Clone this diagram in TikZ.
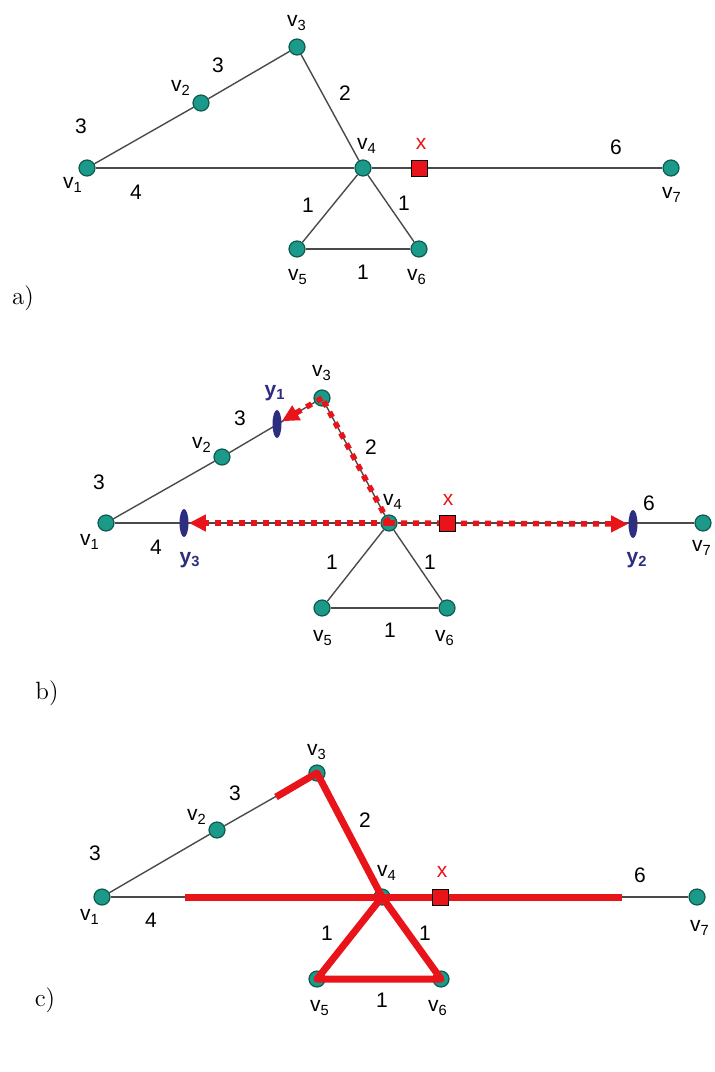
\documentclass[tikz,border=0pt]{standalone}
\usepackage{fontspec}
\newfontfamily\labfont{Liberation Sans}
\usetikzlibrary{arrows.meta}
\usetikzlibrary{shapes.geometric}
\definecolor{vteal}{HTML}{1B9A8A}
\definecolor{vrim}{HTML}{0E5A50}
\definecolor{xred}{HTML}{E8141A}
\definecolor{ynavy}{HTML}{2E2E80}
\definecolor{edgegray}{HTML}{4A4A4A}
\tikzset{vert/.style = {circle, fill=vteal, draw=vrim, line width=0.6pt,
                        inner sep=0, minimum size=8pt}}
\tikzset{xbox/.style = {rectangle, fill=xred, draw=black, line width=0.5pt,
                        inner sep=0, minimum size=8pt}}
\tikzset{ymark/.style = {ellipse, fill=ynavy, inner sep=0,
                         minimum width=4.5pt, minimum height=14pt}}
\tikzset{edge/.style = {draw=edgegray, line width=0.7pt}}
\tikzset{lab/.style = {font=\labfont\fontsize{10.5}{12}\selectfont, inner sep=0}}
\tikzset{ylab/.style = {lab, text=ynavy, font=\labfont\bfseries\fontsize{10.5}{12}\selectfont}}
\tikzset{dotpath/.style = {draw=xred, line width=2.8pt, dash pattern=on 3pt off 3pt}}
\tikzset{redtip/.style = {-{Triangle[length=8.5pt,width=8pt]}}}
\tikzset{hot/.style = {draw=xred, line width=3.5pt, line join=round}}
\tikzset{panel/.style = {font=\fontsize{12.5}{15}\selectfont, inner sep=0}}

\begin{document}
\begin{tikzpicture}[x=0.5pt,y=-0.5pt]
  \useasboundingbox (0,0) rectangle (715,1072);

  % a)
  \node[vert] (a1) at (87,168) {};
  \node[vert] (a2) at (201,103) {};
  \node[vert] (a3) at (297,47) {};
  \node[vert] (a4) at (363,168) {};
  \node[vert] (a5) at (297,249) {};
  \node[vert] (a6) at (419,249) {};
  \node[vert] (a7) at (671,168) {};
  \draw[edge] (a1) -- (a2);
  \draw[edge] (a2) -- (a3);
  \draw[edge] (a3) -- (a4);
  \draw[edge] (a1) -- (a4);
  \draw[edge] (a4) -- (a7);
  \draw[edge] (a4) -- (a5);
  \draw[edge] (a4) -- (a6);
  \draw[edge] (a5) -- (a6);
  \node[xbox] (ax) at (419,168) {};
  \node[lab] (wa12) at (81,126) {3};
  \node[lab] (wa23) at (218,65) {3};
  \node[lab] (wa34) at (345,93) {2};
  \node[lab] (wa14) at (136,192) {4};
  \node[lab] (wa45) at (308,205) {1};
  \node[lab] (wa46) at (404,203) {1};
  \node[lab] (wa56) at (363,272) {1};
  \node[lab] (wa47) at (616,147) {6};
  \node[lab] (la1) at (73,185) {v\textsubscript{1}};
  \node[lab] (la2) at (181,88) {v\textsubscript{2}};
  \node[lab] (la3) at (297,23) {v\textsubscript{3}};
  \node[lab] (la4) at (367,146) {v\textsubscript{4}};
  \node[lab] (la5) at (298,277) {v\textsubscript{5}};
  \node[lab] (la6) at (417,277) {v\textsubscript{6}};
  \node[lab] (la7) at (672,195) {v\textsubscript{7}};
  \node[lab, text=xred] (lax) at (421,144) {x};
  \node[panel] (pa) at (23,298) {a)};

  % b)
  \node[vert] (b1) at (106,523) {};
  \node[vert] (b2) at (222,457) {};
  \node[vert] (b3) at (322,398) {};
  \node[vert] (b4) at (389,523) {};
  \node[vert] (b5) at (322,608) {};
  \node[vert] (b6) at (447,608) {};
  \node[vert] (b7) at (703,523) {};
  \draw[edge] (b1) -- (b2);
  \draw[edge] (b2) -- (b3);
  \draw[edge] (b3) -- (b4);
  \draw[edge] (b1) -- (b4);
  \draw[edge] (b4) -- (b7);
  \draw[edge] (b4) -- (b5);
  \draw[edge] (b4) -- (b6);
  \draw[edge] (b5) -- (b6);
  \node[ymark] (by1) at (277,424) {};
  \node[ymark] (by2) at (633,524) {};
  \node[ymark] (by3) at (184,523) {};
  \draw[dotpath] (b4.center) -- (b3.center);
  \draw[dotpath, redtip] (b3.center) -- (by1);
  \draw[dotpath, redtip] (b4.center) -- (by3);
  \draw[dotpath, redtip] (b4.center) -- (by2);
  \node[xbox] (bx) at (447,523) {};
  \node[lab] (wb12) at (99,482) {3};
  \node[lab] (wb23) at (240,418) {3};
  \node[lab] (wb34) at (371,447) {2};
  \node[lab] (wb14) at (156,547) {4};
  \node[lab] (wb45) at (332,562) {1};
  \node[lab] (wb46) at (430,562) {1};
  \node[lab] (wb56) at (390,630) {1};
  \node[lab] (wb47) at (649,503) {6};
  \node[lab] (lb1) at (90,542) {v\textsubscript{1}};
  \node[lab] (lb2) at (202,445) {v\textsubscript{2}};
  \node[lab] (lb3) at (322,373) {v\textsubscript{3}};
  \node[lab] (lb4) at (393,502) {v\textsubscript{4}};
  \node[lab] (lb5) at (323,638) {v\textsubscript{5}};
  \node[lab] (lb6) at (445,638) {v\textsubscript{6}};
  \node[lab] (lb7) at (702,548) {v\textsubscript{7}};
  \node[lab, text=xred] (lbx) at (448,500) {x};
  \node[ylab] (ly1) at (275,393) {y\textsubscript{1}};
  \node[ylab] (ly2) at (637,560) {y\textsubscript{2}};
  \node[ylab] (ly3) at (190,560) {y\textsubscript{3}};
  \node[panel] (pb) at (47,693) {b)};

  % c)
  \node[vert] (c1) at (102,897) {};
  \node[vert] (c2) at (217,830) {};
  \node[vert] (c3) at (317,773) {};
  \node[vert] (c4) at (382,897) {};
  \node[vert] (c5) at (317,979) {};
  \node[vert] (c6) at (441,979) {};
  \node[vert] (c7) at (697,897) {};
  \draw[edge] (c1) -- (c2);
  \draw[edge] (c2) -- (c3);
  \draw[edge] (c1) -- (c4);
  \draw[edge] (c4) -- (c7);
  \coordinate (cz1) at (185,897);
  \coordinate (cz2) at (622,897);
  \coordinate (cz3) at (276,797);
  \draw[hot] (cz3) -- (c3.center) -- (c4.center) -- (c5.center)
    -- (c6.center) -- (c4.center);
  \draw[hot] (cz1) -- (cz2);
  \node[xbox] (cx) at (440,897) {};
  \node[lab] (wc12) at (95,853) {3};
  \node[lab] (wc23) at (235,793) {3};
  \node[lab] (wc34) at (365,820) {2};
  \node[lab] (wc14) at (151,920) {4};
  \node[lab] (wc45) at (327,933) {1};
  \node[lab] (wc46) at (425,933) {1};
  \node[lab] (wc56) at (382,1000) {1};
  \node[lab] (wc47) at (640,875) {6};
  \node[lab] (lc1) at (90,917) {v\textsubscript{1}};
  \node[lab] (lc2) at (197,817) {v\textsubscript{2}};
  \node[lab] (lc3) at (317,752) {v\textsubscript{3}};
  \node[lab] (lc4) at (387,873) {v\textsubscript{4}};
  \node[lab] (lc5) at (320,1008) {v\textsubscript{5}};
  \node[lab] (lc6) at (438,1008) {v\textsubscript{6}};
  \node[lab] (lc7) at (700,928) {v\textsubscript{7}};
  \node[lab, text=xred] (lcx) at (442,872) {x};
  \node[panel] (pc) at (45,1000) {c)};
\end{tikzpicture}
\end{document}
